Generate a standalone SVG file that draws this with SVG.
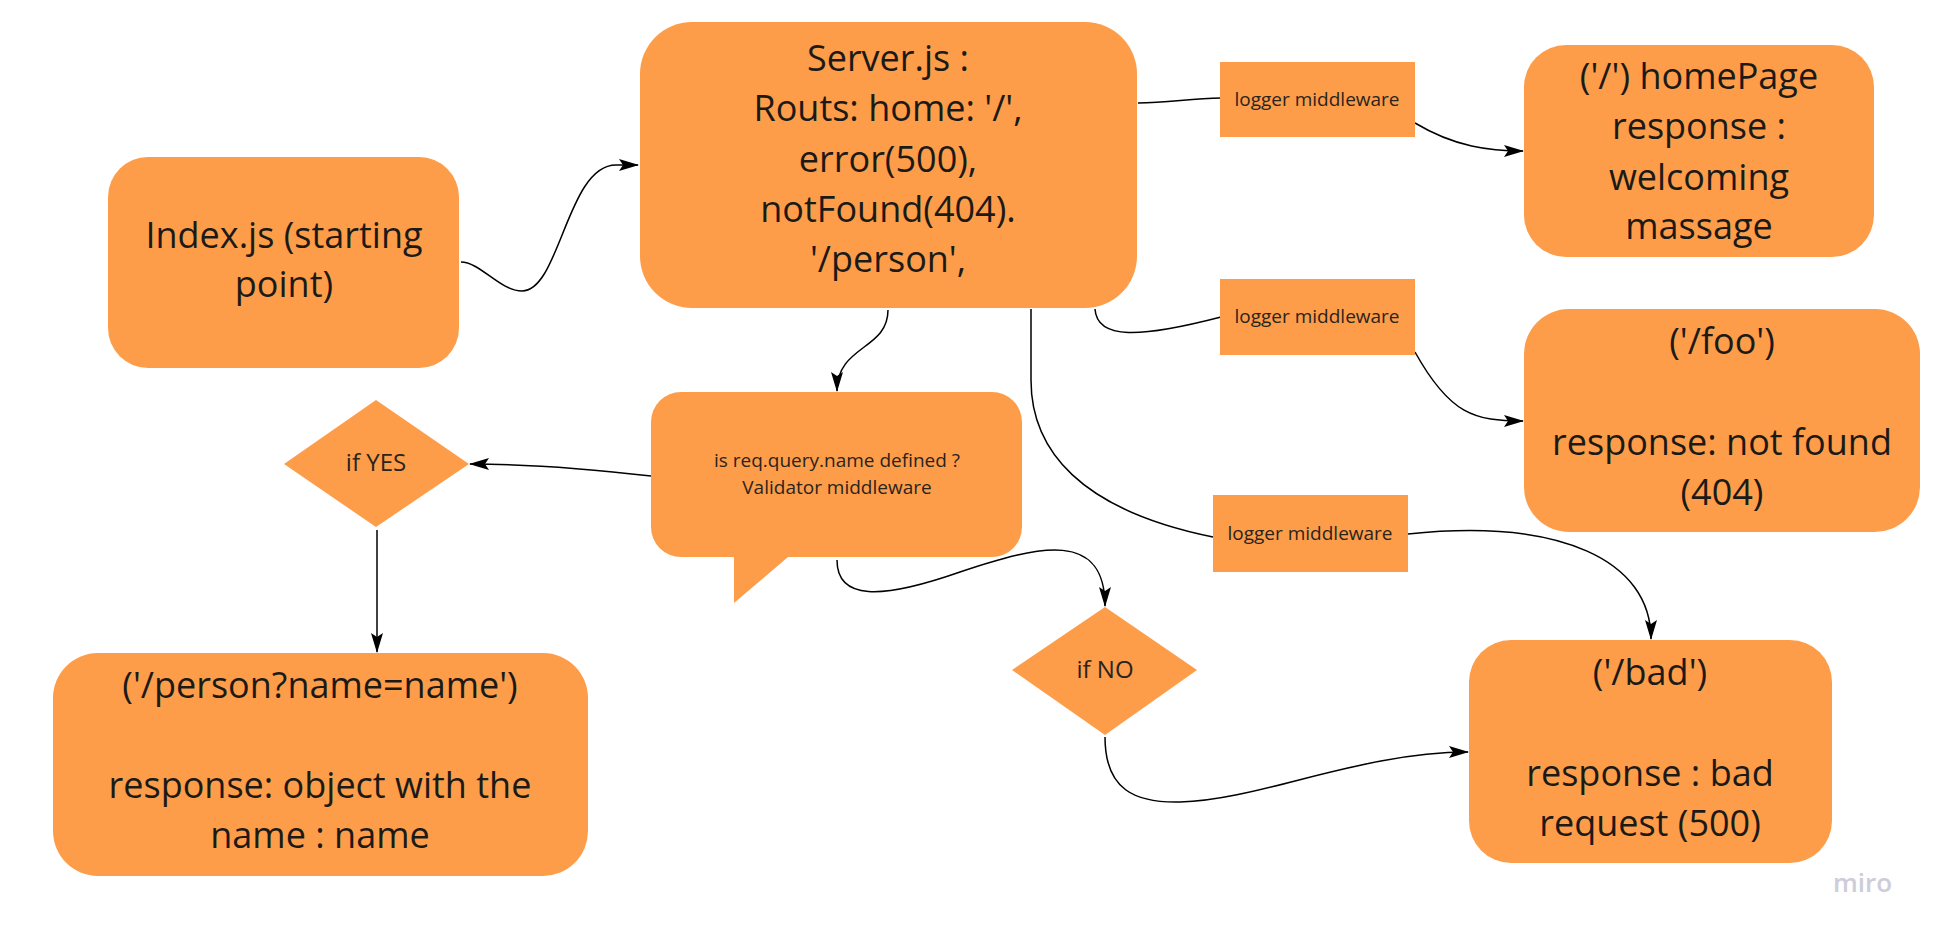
<svg xmlns="http://www.w3.org/2000/svg" width="1940" height="939" viewBox="0 0 1940 939">
<style>
.shape{fill:#fd9d4a;}
.big{font-family:"Open Sans","Liberation Sans",sans-serif;font-size:36px;fill:#1c1a17;text-anchor:middle;}
.small{font-family:"Open Sans","Liberation Sans",sans-serif;font-size:19px;fill:#2a241d;text-anchor:middle;}
.dec{font-family:"Open Sans","Liberation Sans",sans-serif;font-size:24px;fill:#2a241d;text-anchor:middle;}
.edge{fill:none;stroke:#000;stroke-width:1.5;}
.wm{font-family:"Open Sans","Liberation Sans",sans-serif;font-size:26px;font-weight:600;fill:#cdcdda;}
</style>
<defs>
<marker id="arr" viewBox="0 0 20 12" refX="19" refY="6" markerWidth="20" markerHeight="12" markerUnits="userSpaceOnUse" orient="auto">
<path d="M0,0 L20,6 L0,12 L4,6 Z" fill="#000"/>
</marker>
</defs>
<rect width="1940" height="939" fill="#fff"/>

<g id="connectors">
<path class="edge" d="M461,262 C480,262 500,291 522,291 C560,291 567,165 616,165 L638,165" marker-end="url(#arr)"/>
<path class="edge" d="M888,310 C888,350 837,345 837,391" marker-end="url(#arr)"/>
<path class="edge" d="M1138,103 C1170,102 1190,99 1221,98"/>
<path class="edge" d="M1415,123 C1455,147 1490,151 1523,151" marker-end="url(#arr)"/>
<path class="edge" d="M1095,309 C1097,340 1140,338 1221,317"/>
<path class="edge" d="M1415,352 C1450,415 1475,421 1523,421" marker-end="url(#arr)"/>
<path class="edge" d="M1031,309 L1031,380 C1031,450 1080,510 1213,537"/>
<path class="edge" d="M1408,534 C1560,518 1651,560 1651,639" marker-end="url(#arr)"/>
<path class="edge" d="M651,476 C600,470 530,464 470,464" marker-end="url(#arr)"/>
<path class="edge" d="M377,530 L377,652" marker-end="url(#arr)"/>
<path class="edge" d="M837,560 C837,600 880,600 960,572 C1040,545 1105,530 1105,606" marker-end="url(#arr)"/>
<path class="edge" d="M1105,737 C1105,790 1135,803 1180,802 C1260,800 1360,752 1468,752" marker-end="url(#arr)"/>
</g>

<g id="index">
<rect class="shape" x="108" y="157" width="351" height="211" rx="40"/>
<text class="big" x="284" y="248">Index.js (starting</text>
<text class="big" x="284" y="297">point)</text>
</g>

<g id="server">
<rect class="shape" x="640" y="22" width="497" height="286" rx="52"/>
<text class="big" x="888" y="71">Server.js :</text>
<text class="big" x="888" y="121">Routs: home: '/',</text>
<text class="big" x="888" y="172">error(500),</text>
<text class="big" x="888" y="222">notFound(404).</text>
<text class="big" x="888" y="272">'/person',</text>
</g>

<g id="logger1">
<rect class="shape" x="1220" y="62" width="195" height="75"/>
<text class="small" x="1317" y="106">logger middleware</text>
</g>

<g id="logger2">
<rect class="shape" x="1220" y="279" width="195" height="76"/>
<text class="small" x="1317" y="323">logger middleware</text>
</g>

<g id="logger3">
<rect class="shape" x="1213" y="495" width="195" height="77"/>
<text class="small" x="1310" y="540">logger middleware</text>
</g>

<g id="homepage">
<rect class="shape" x="1524" y="45" width="350" height="212" rx="42"/>
<text class="big" x="1699" y="89">('/') homePage</text>
<text class="big" x="1699" y="139">response :</text>
<text class="big" x="1699" y="190">welcoming</text>
<text class="big" x="1699" y="239">massage</text>
</g>

<g id="foo">
<rect class="shape" x="1524" y="309" width="396" height="223" rx="45"/>
<text class="big" x="1722" y="354">('/foo')</text>
<text class="big" x="1722" y="455">response: not found</text>
<text class="big" x="1722" y="505">(404)</text>
</g>

<g id="validator">
<path class="shape" d="M681,392 H992 A30,30 0 0 1 1022,422 V527 A30,30 0 0 1 992,557 H788 L734,603 V557 H681 A30,30 0 0 1 651,527 V422 A30,30 0 0 1 681,392 Z"/>
<text class="small" x="837" y="467">is req.query.name defined ?</text>
<text class="small" x="837" y="494">Validator middleware</text>
</g>

<g id="ifyes">
<path class="shape" d="M376,400 L469,464 L376,527 L284,464 Z"/>
<text class="dec" x="376" y="471">if YES</text>
</g>

<g id="person">
<rect class="shape" x="53" y="653" width="535" height="223" rx="45"/>
<text class="big" x="320" y="698">('/person?name=name')</text>
<text class="big" x="320" y="798">response: object with the</text>
<text class="big" x="320" y="848">name : name</text>
</g>

<g id="ifno">
<path class="shape" d="M1105,607 L1197,670 L1105,735 L1012,670 Z"/>
<text class="dec" x="1105" y="678">if NO</text>
</g>

<g id="bad">
<rect class="shape" x="1469" y="640" width="363" height="223" rx="42"/>
<text class="big" x="1650" y="685">('/bad')</text>
<text class="big" x="1650" y="786">response : bad</text>
<text class="big" x="1650" y="836">request (500)</text>
</g>

<text class="wm" x="1833" y="892">miro</text>
</svg>
